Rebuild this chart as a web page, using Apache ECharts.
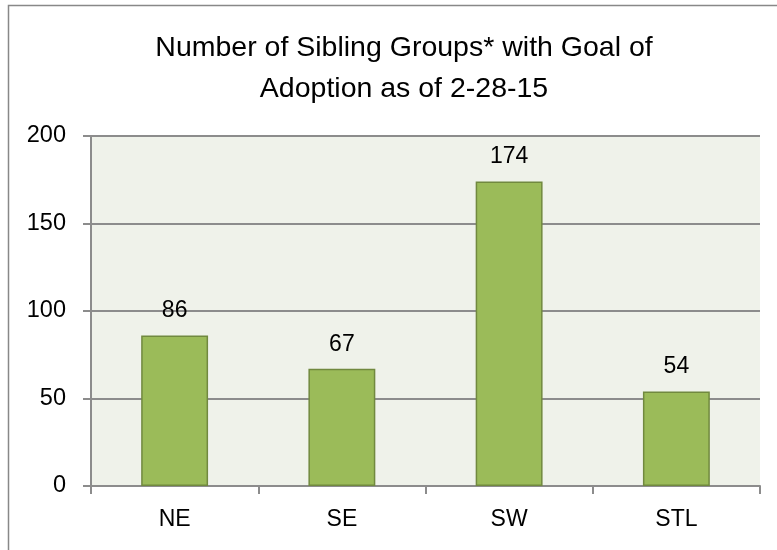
<!DOCTYPE html>
<html>
<head>
<meta charset="utf-8">
<script src="https://cdn.jsdelivr.net/npm/echarts@6/dist/echarts.min.js"></script>
<style>
  html, body { margin: 0; padding: 0; background: #fff; }
  #chart { width: 777px; height: 550px; }
</style>
</head>
<body>
<div id="chart"></div>
<script>
// data
var regions = ['NE', 'SE', 'SW', 'STL'];
var siblingGroups = [86, 67, 174, 54];
var yTicks = [0, 50, 100, 150, 200];

var font = 'Liberation Sans';

var myChart = echarts.init(document.getElementById('chart'));

var option = {
    animation: false,
    textStyle: { fontFamily: font },
    title: {
        text: 'Number of Sibling Groups* with Goal of\nAdoption as of 2-28-15',
        left: 399,
        textAlign: 'center',
        top: 23,
        textStyle: {
            fontFamily: font,
            fontSize: 28.5,
            fontWeight: 'normal',
            color: '#000',
            lineHeight: 41
        }
    },
    graphic: [{
        type: 'rect',
        shape: { x: 8.5, y: 5.5, width: 820, height: 600 },
        style: { fill: 'none', stroke: '#888', lineWidth: 1.5 },
        z: -1
    }],
    grid: {
        left: 91,
        right: 17,
        top: 136,
        bottom: 64,
        show: true,
        backgroundColor: '#EFF2EA',
        borderWidth: 0
    },
    xAxis: {
        type: 'category',
        data: regions,
        axisLine: { lineStyle: { color: '#8C8C8C', width: 2 } },
        axisTick: { show: true, length: 8, lineStyle: { color: '#8C8C8C', width: 2 } },
        axisLabel: { fontSize: 23, color: '#000', margin: 22, fontFamily: font }
    },
    yAxis: {
        type: 'value',
        min: yTicks[0],
        max: yTicks[yTicks.length - 1],
        interval: 50,
        axisLine: { show: true, lineStyle: { color: '#8C8C8C', width: 2 } },
        axisTick: { show: true, length: 8, lineStyle: { color: '#8C8C8C', width: 2 } },
        axisLabel: { fontSize: 23.5, color: '#000', margin: 25, fontFamily: font },
        splitLine: { show: true, lineStyle: { color: '#8C8C8C', width: 2 } }
    },
    series: [{
        name: 'Sibling Groups',
        type: 'bar',
        data: siblingGroups,
        barCategoryGap: '60%',
        itemStyle: {
            color: '#9BBB59',
            borderColor: '#71893F',
            borderWidth: 1.5
        },
        label: {
            show: true,
            position: 'top',
            distance: 13,
            fontSize: 23,
            color: '#000',
            fontFamily: font
        }
    }]
};

myChart.setOption(option);
</script>
</body>
</html>
